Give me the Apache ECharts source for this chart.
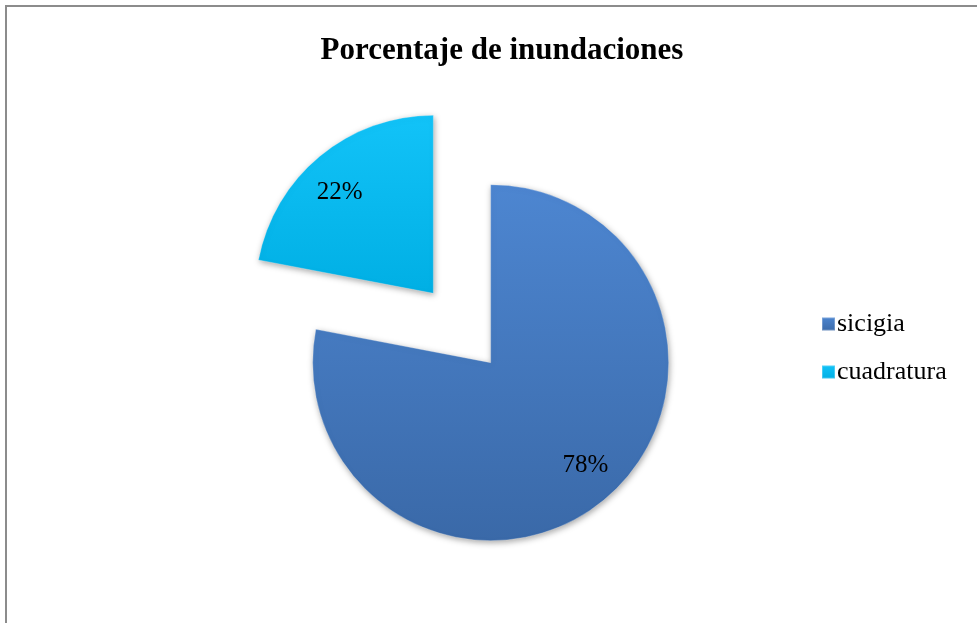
<!DOCTYPE html>
<html>
<head>
<meta charset="utf-8">
<script src="https://cdn.jsdelivr.net/npm/echarts@6/dist/echarts.min.js"></script>
<style>
  html, body { margin: 0; padding: 0; background: #fff; }
  #chart { width: 977px; height: 623px; }
</style>
</head>
<body>
<div id="chart"></div>
<script>
// data
const categories = ['sicigia', 'cuadratura'];
const values = [78, 22];
const sliceColors = [
  ['#4d86d1', '#3a69a8'], // sicigia
  ['#12c3f8', '#00afe4'], // cuadratura
];
// nudge labels from the default mid-radius spot to where Excel put them
const labelShift = [[36, 32], [-35, -30]];

const chart = echarts.init(document.getElementById('chart'));

chart.setOption({
  animation: false,
  title: {
    text: 'Porcentaje de inundaciones',
    left: 497,
    top: 30,
    textAlign: 'center',
    textStyle: {
      fontFamily: 'Liberation Serif',
      fontSize: 31,
      fontWeight: 'bold',
      color: '#000',
    },
  },
  legend: {
    orient: 'vertical',
    left: 816,
    top: 306,
    itemWidth: 13,
    itemHeight: 13,
    itemGap: 22,
    icon: 'rect',
    selectedMode: false,
    textStyle: {
      fontFamily: 'Liberation Serif',
      fontSize: 26,
      lineHeight: 26,
      color: '#000',
      padding: [0, 0, 0, -3],
    },
    data: categories,
  },
  graphic: [
    {
      type: 'polyline',
      shape: { points: [[6, 623], [6, 6], [977, 6]] },
      style: { stroke: '#8c8c8c', lineWidth: 2, fill: null },
      silent: true,
    },
  ],
  series: [
    {
      type: 'pie',
      center: [462, 328],
      radius: 178,
      startAngle: 90,
      clockwise: true,
      selectedMode: 'multiple',
      selectedOffset: 45,
      emphasis: { disabled: true },
      label: {
        show: true,
        position: 'inside',
        formatter: '{c}%',
        fontFamily: 'Liberation Serif',
        fontSize: 25,
        color: '#000',
      },
      labelLine: { show: false },
      labelLayout: (params) => ({
        dx: labelShift[params.dataIndex][0],
        dy: labelShift[params.dataIndex][1],
      }),
      data: categories.map((name, i) => ({
        name: name,
        value: values[i],
        selected: true,
        itemStyle: {
          color: {
            type: 'linear',
            x: 0, y: 0, x2: 0, y2: 1,
            colorStops: [
              { offset: 0, color: sliceColors[i][0] },
              { offset: 1, color: sliceColors[i][1] },
            ],
          },
          borderColor: 'rgba(255,255,255,0.25)',
          borderWidth: 1,
          shadowBlur: 6,
          shadowOffsetX: 1,
          shadowOffsetY: 2,
          shadowColor: 'rgba(0,0,0,0.35)',
        },
      })),
    },
  ],
});
</script>
</body>
</html>
